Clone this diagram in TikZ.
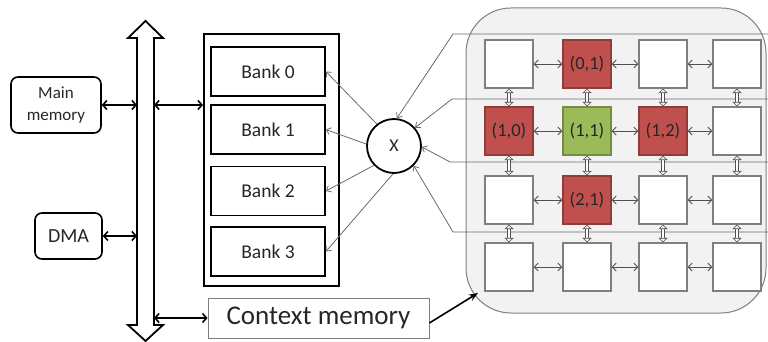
\documentclass[tikz,border=0pt]{standalone}
\usepackage{fontspec}
\setmainfont{Carlito}
\usetikzlibrary{arrows.meta,calc}

\definecolor{txt}{HTML}{262626}
\definecolor{cellred}{HTML}{C0504D}
\definecolor{cellgreen}{HTML}{9BBB59}
\definecolor{gridgray}{HTML}{7F7F7F}
\definecolor{linkgray}{HTML}{505050}
\definecolor{feedgray}{HTML}{6A6A6A}
\definecolor{panelfill}{HTML}{F2F2F2}

\tikzset{
  blk/.style={draw=black, line width=1.6pt},
  roundbox/.style={blk, rounded corners=7pt, fill=white, text=txt, align=center, inner sep=0pt},
  bankbox/.style={draw=black, line width=1.8pt, minimum width=114pt, minimum height=49pt,
    inner sep=0pt, font=\fontsize{19.5}{22}\selectfont, text=txt},
  cell/.style={draw=gridgray, line width=1.1pt, fill=white, minimum size=48pt, inner sep=0pt,
    font=\fontsize{18.5}{20}\selectfont, text=txt},
  hotcell/.style={cell, fill=cellred, draw=cellred!75!black},
  focuscell/.style={cell, fill=cellgreen, draw=cellgreen!75!black},
  busarrow/.style={line width=1.6pt,
    {Straight Barb[length=4pt,width=9pt]}-{Straight Barb[length=4pt,width=9pt]}},
  feed/.style={draw=feedgray, line width=0.8pt, -{Straight Barb[length=4pt,width=7pt]}},
  link/.style={draw=linkgray, line width=0.9pt,
    {Straight Barb[length=4pt,width=8pt]}-{Straight Barb[length=4pt,width=8pt]}},
  vlink/.style={draw=linkgray, line width=0.6pt, double=white, double distance=2pt,
    {Triangle[open,length=4.5pt,width=9pt]}-{Triangle[open,length=4.5pt,width=9pt]}},
}

\begin{document}
\begin{tikzpicture}[x=1pt, y=-1pt]
\useasboundingbox (0,0) rectangle (768,342);

% system bus
\draw[line width=1.8pt, fill=white, line join=miter]
  (137,38) -- (128,38) -- (145.5,21) -- (163,38) -- (154,38) -- (154,325)
  -- (163,325) -- (145.5,341) -- (128,325) -- (137,325) -- cycle;
\coordinate (busL) at (137,0);
\coordinate (busR) at (154,0);

% memories on the left
\node[roundbox, minimum width=90pt, minimum height=56pt,
      font=\fontsize{17}{22}\selectfont] (mm) at (56,105) {Main\\memory};
\node[roundbox, minimum width=67pt, minimum height=46pt,
      font=\fontsize{20}{22}\selectfont] (dma) at (68.5,236) {DMA};

% banked data memory
\node[draw=black, line width=2pt, minimum width=135pt, minimum height=252pt, inner sep=0pt]
  (banks) at (271.5,160) {};
\node[bankbox] (b0) at (268,71.5) {Bank 0};
\node[bankbox] (b1) at (268,129.5) {Bank 1};
\node[bankbox] (b2) at (268,191) {Bank 2};
\node[bankbox] (b3) at (268,251.5) {Bank 3};

% context memory
\node[draw=gridgray, line width=0.8pt, minimum width=221pt, minimum height=40pt, inner sep=0pt,
      font=\fontsize{27}{30}\selectfont, text=txt] (cm) at (318.5,318) {Context memory};

% crossbar
\node[draw=black, line width=1.8pt, circle, minimum size=54pt, inner sep=0pt, fill=white,
      font=\fontsize{18}{20}\selectfont, text=txt] (x) at (394,146) {X};

% bus connections
\draw[busarrow] (mm.east) -- (mm.east -| busL);
\draw[busarrow] (dma.east) -- (dma.east -| busL);
\draw[busarrow] (busR |- mm.east) -- (banks.west |- mm.east);
\draw[busarrow] (busR |- cm.west) -- (cm.west);

% reconfigurable array
\node[draw=gridgray, fill=panelfill, line width=1pt, rounded corners=45pt,
      minimum width=300pt, minimum height=305pt, inner sep=0pt] (grid) at (616,160.5) {};
\coordinate (gridhit) at (478,293);
\draw[line width=1.6pt, -{Stealth[length=9pt,width=7pt]}] ([yshift=-5pt]cm.east) -- (gridhit);

% row buses into the crossbar
\coordinate (t0) at (453,34);  \coordinate (e0) at (768,34);
\coordinate (t1) at (452,99);  \coordinate (e1) at (768,99);
\coordinate (t2) at (450,162); \coordinate (e2) at (768,162);
\coordinate (t3) at (453,232); \coordinate (e3) at (768,232);
\draw[feed] (e0) -- (t0) -- (x.84);
\draw[feed] (e1) -- (t1) -- (x.41);
\draw[feed] (e2) -- (t2) -- (x.-2);
\draw[feed] (e3) -- (t3) -- (x.-45);

% crossbar to banks
\draw[feed] (x.128) -- (b0.east);
\draw[feed] (x.176) -- (b1.east);
\draw[feed] (x.224) -- (b2.east);
\draw[feed] (x.268) -- (b3.east);

% processing elements
\node[cell]      (c00) at (509,64)  {};
\node[hotcell]   (c01) at (587,64)  {(0,1)};
\node[cell]      (c02) at (663,64)  {};
\node[cell]      (c03) at (737,64)  {};
\node[hotcell]   (c10) at (509,131) {(1,0)};
\node[focuscell] (c11) at (587,131) {(1,1)};
\node[hotcell]   (c12) at (663,131) {(1,2)};
\node[cell]      (c13) at (737,131) {};
\node[cell]      (c20) at (509,200) {};
\node[hotcell]   (c21) at (587,200) {(2,1)};
\node[cell]      (c22) at (663,200) {};
\node[cell]      (c23) at (737,200) {};
\node[cell]      (c30) at (509,267) {};
\node[cell]      (c31) at (587,267) {};
\node[cell]      (c32) at (663,267) {};
\node[cell]      (c33) at (737,267) {};

% mesh links
\foreach \r in {0,1,2,3}
  \foreach \a/\b in {0/1,1/2,2/3}
    \draw[link] (c\r\a.east) -- (c\r\b.west);
\foreach \c in {0,1,2,3}
  \foreach \a/\b in {0/1,1/2,2/3}
    \draw[vlink] (c\a\c.south) -- (c\b\c.north);
\end{tikzpicture}
\end{document}
